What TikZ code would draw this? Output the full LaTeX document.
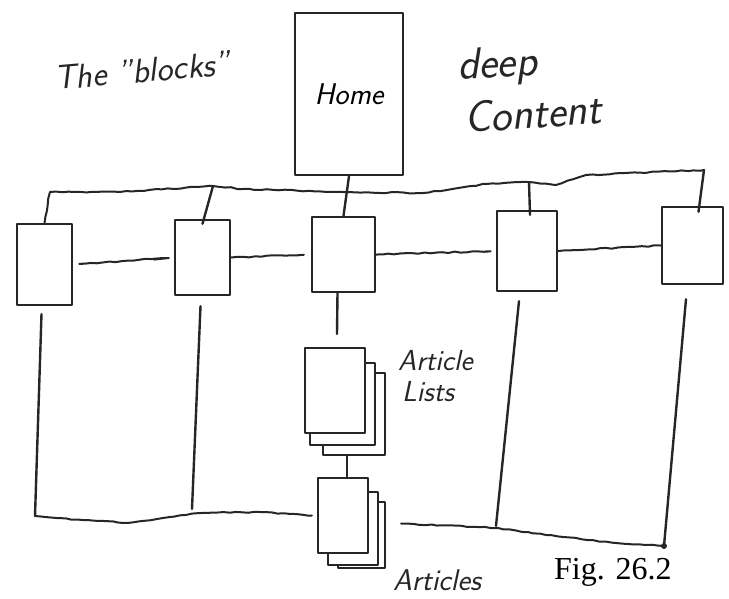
\documentclass[tikz,border=0pt]{standalone}
\usepackage{fontspec}
\newfontfamily\figfont{Liberation Serif}
\usetikzlibrary{calc,decorations.pathmorphing}
\tikzset{
  ink/.style={draw=black!85, line width=2.4pt, line join=round, line cap=round},
  box/.style={ink, rectangle, inner sep=0pt, fill=white},
  wire/.style={ink},
  rough/.style={ink, line width=2pt, decorate, decoration={random steps, segment length=6pt, amplitude=0.6pt}},
  hand/.style={font=\sffamily\itshape, text=black!85, inner sep=0pt},
}
\pgfmathsetseed{7}
\begin{document}
\begin{tikzpicture}[x=1pt,y=-1pt]
\useasboundingbox (0,0) rectangle (729,598);

% handwritten labels
\node[hand, anchor=base west, rotate=5, font=\sffamily\itshape\fontsize{34}{36}\selectfont] (blocks) at (55,90) {The "blocks"};
\node[hand, anchor=base west, rotate=3, font=\sffamily\itshape\fontsize{44}{46}\selectfont] (deep) at (458,80) {deep};
\node[hand, anchor=base west, rotate=4, font=\sffamily\itshape\fontsize{44}{46}\selectfont] (content) at (465,133) {Content};

% home
\node[box, minimum width=108pt, minimum height=162pt, font=\sffamily\itshape\fontsize{30}{32}\selectfont] (home) at (349,94) {Home};

% block row
\node[box, minimum width=55pt, minimum height=81pt] (b1) at (44.5,264.5) {};
\node[box, minimum width=55pt, minimum height=75pt] (b2) at (202.5,257.5) {};
\node[box, minimum width=63pt, minimum height=75pt] (b3) at (343.5,254.5) {};
\node[box, minimum width=60pt, minimum height=80pt] (b4) at (527,251) {};
\node[box, minimum width=61pt, minimum height=77pt] (b5) at (692.5,245.5) {};

% top bus
\coordinate (busL) at (50,192);
\coordinate (j2) at (213,186);
\coordinate (j4) at (529,182);
\coordinate (busR) at (704,170);
\draw[rough] (b1.north) -- (busL) -- (120,192) -- (j2) -- (243,189) -- (343,192) -- (423,193) -- (486,184) -- (j4) -- (556,185) -- (586,175) -- (busR);
\draw[wire] (busR) -- ($(b5.north)+(6,6)$);
\draw[wire] (j2) -- ($(b2.north)+(0,5)$);
\draw[wire] (home.south) -- (b3.north);
\draw[wire] (j4) -- ($(b4.north)+(3,5)$);

% links between blocks
\draw[rough, shorten <=11pt, shorten >=20pt] (b1.east) -- (b2.west);
\draw[rough, shorten >=7pt] (b2.east) -- (b3.west);
\draw[rough, shorten >=11pt] (b3.east) -- (b4.west);
\draw[rough] (b4.east) -- (b5.west);

% article lists stack
\node[box, minimum width=62pt, minimum height=82pt] (al3) at (354,414) {};
\node[box, minimum width=65pt, minimum height=82pt] (al2) at (342.5,404) {};
\node[box, minimum width=60pt, minimum height=85pt] (al) at (335,390.5) {};
\node[hand, anchor=base west, font=\sffamily\itshape\fontsize{29}{31}\selectfont] (altext1) at (398,370) {Article};
\node[hand, anchor=base west, font=\sffamily\itshape\fontsize{29}{31}\selectfont] (altext2) at (402,401) {Lists};

% articles stack
\node[box, minimum width=47pt, minimum height=66pt] (ar3) at (361.5,535) {};
\node[box, minimum width=50pt, minimum height=73pt] (ar2) at (353,528.5) {};
\node[box, minimum width=50pt, minimum height=75pt] (ar) at (343,515.5) {};
\node[hand, anchor=base west, font=\sffamily\itshape\fontsize{30}{32}\selectfont] (artext) at (393,590) {Articles};

\draw[wire] ($(b3.south)+(-6,0)$) -- ($(al.north)+(2,-13)$);
\draw[wire] ($(al3.south)+(-7,0)$) -- ($(ar.north)+(4,0)$);

% bottom bus
\coordinate (e1) at (35,516);
\coordinate (e2) at (192,509);
\coordinate (e4) at (496,526);
\coordinate (e5) at (664,546);
\draw[wire] ($(b1.south)+(-3,8)$) -- (e1);
\draw[wire] ($(b2.south)+(-2,10)$) -- (e2);
\draw[wire] ($(b4.south)+(-8,9)$) -- (e4);
\draw[wire] ($(b5.south)+(-6.5,14)$) -- (e5);
\fill[black!85] (e5) circle (3pt);
\draw[rough] (e1) -- (83,520) -- (127,523) -- (200,513) -- (260,512) -- ($(ar.west)+(-5,0)$);
\draw[rough] ($(ar.east)+(32,8)$) -- (498,528) -- (546,535) -- (616,543) -- (e5);

% caption
\node[anchor=base west, inner sep=0pt, font=\figfont\fontsize{32}{34}\selectfont] (fig) at (554,579) {Fig. 26.2};
\end{tikzpicture}
\end{document}
